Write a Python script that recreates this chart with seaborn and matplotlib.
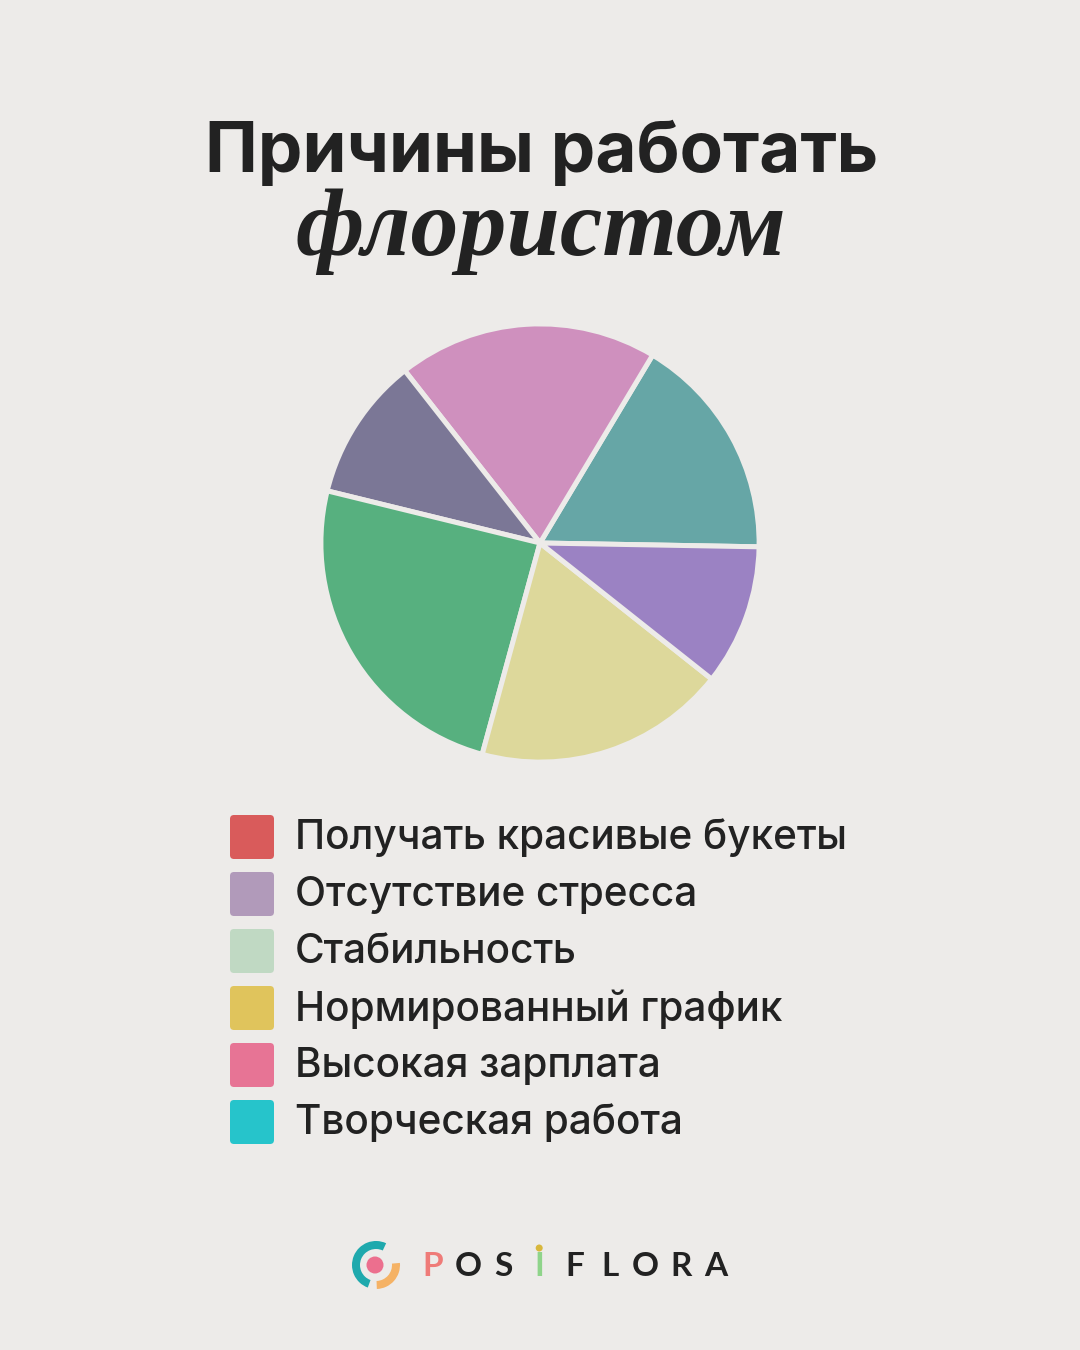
import numpy as np
import matplotlib.pyplot as plt
import seaborn as sns
from matplotlib.patches import FancyBboxPatch, Wedge, Circle

# данные секторов (против часовой стрелки, начиная с правого края)
slice_shares = [16.7, 19.2, 10.6, 24.6, 18.6, 10.4]
slice_colors = ["#66a6a6", "#cf90be", "#7b7796", "#57b07f", "#ddd89b", "#9b82c3"]

# легенда
legend_labels = [
    "Получать красивые букеты",
    "Отсутствие стресса",
    "Стабильность",
    "Нормированный график",
    "Высокая зарплата",
    "Творческая работа",
]
legend_colors = ["#d95b5b", "#b19aba", "#c0d9c3", "#e0c45c", "#e77495", "#26c4cb"]

bg = "#edebe9"
ink = "#222222"

sns.set_theme(style="white")
plt.rcParams["font.family"] = ["Inter", "DejaVu Sans"]

W, H = 1080, 1350
fig = plt.figure(figsize=(W / 100, H / 100), dpi=100, facecolor=bg)

# заголовок
fig.text(542 / W, 1 - 172 / H, "Причины работать", ha="center", va="baseline",
         fontsize=51, fontweight="bold", color=ink)
fig.text(541 / W, 1 - 255 / H, "флористом", ha="center", va="baseline",
         fontsize=69, fontstyle="italic", fontweight="bold",
         family=["Liberation Serif", "DejaVu Serif"], color=ink)

# круговая диаграмма
cx, cy, r = 540, 543, 218
ax = fig.add_axes([(cx - r) / W, 1 - (cy + r) / H, 2 * r / W, 2 * r / H])
ax.set_facecolor(bg)
ax.pie(slice_shares, colors=slice_colors, startangle=-1, counterclock=True,
       wedgeprops=dict(edgecolor=bg, linewidth=3.6))
ax.set_xlim(-0.995, 0.995)
ax.set_ylim(-0.995, 0.995)
ax.set_aspect("equal")
ax.axis("off")

# легенда вручную: скруглённые квадраты + подписи
lax = fig.add_axes([0, 0, 1, 1], facecolor="none")
lax.set_xlim(0, W)
lax.set_ylim(H, 0)
lax.axis("off")
y0, step, box = 837, 57, 44
for i, (lab, col) in enumerate(zip(legend_labels, legend_colors)):
    y = y0 + i * step
    lax.add_patch(FancyBboxPatch((230 + 4, y - box / 2 + 4), box - 8, box - 8,
                                 boxstyle="round,pad=4", fc=col, ec="none"))
    lax.text(295, y + 1, lab, ha="left", va="center", fontsize=29.2,
             fontweight="medium", color=ink)

# логотип (ось y перевёрнута, поэтому углы зеркальные)
lx, ly = 376, 1265
lax.add_patch(Wedge((lx, ly), 24, 110, 295, width=8, fc="#1fa9ad", ec="none"))
lax.add_patch(Wedge((lx, ly), 24, -5, 88, width=8, fc="#f5b265", ec="none"))
lax.add_patch(Circle((lx - 1, ly), 8.5, fc="#ec6f8e", ec="none"))
letters = list("POSIFLORA")
letter_colors = ["#ef7b78", ink, ink, "#8fd48a", ink, ink, ink, ink, ink]
for i, (ch, col) in enumerate(zip(letters, letter_colors)):
    lax.text(433 + i * 35.4, ly + 2, ch, ha="center", va="center", fontsize=24,
             fontweight="bold", color=col, family=["Lato", "DejaVu Sans"])
lax.add_patch(Circle((433 + 3 * 35.4, 1248), 3.5, fc="#d8b73c", ec="none"))

fig.savefig("out.png", dpi=100, facecolor=bg)
